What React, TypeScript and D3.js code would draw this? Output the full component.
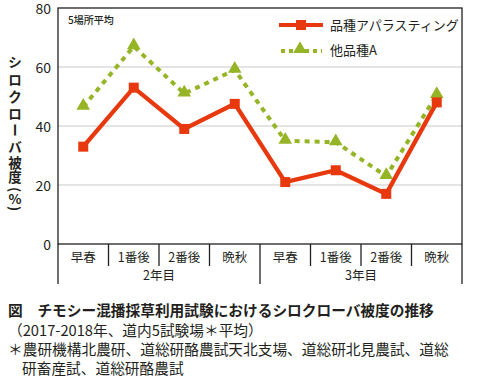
import React, { useEffect, useRef } from "react";
import * as d3 from "d3";

const categories = ["早春", "1番後", "2番後", "晩秋", "早春", "1番後", "2番後", "晩秋"];
const groups = ["2年目", "3年目"];
const seriesNames = ["品種アパラスティング", "他品種A"];
const asparaValues = [33, 53, 39, 47.5, 21, 25, 17, 48];
const otherValues = [46.5, 67, 51, 59, 35, 34.5, 23, 50.5];
const yTicks = [0, 20, 40, 60, 80];
const yTitle = ["シ", "ロ", "ク", "ロ", "ー", "バ", "被", "度", "(", "%", ")"];

const RED = "#e8380d";
const GREEN = "#95b526";
const INK = "#231f20";
const FONT = "'Noto Sans CJK JP', 'Noto Sans', sans-serif";

export default function App() {
  const svgRef = useRef<SVGSVGElement>(null);

  useEffect(() => {
    const svg = d3.select(svgRef.current);
    svg.selectAll("*").remove();

    const left = 58, right = 462, top = 8, bottom = 244;
    const x = d3.scaleBand<number>().domain(d3.range(categories.length)).range([left, right]);
    const y = d3.scaleLinear().domain([0, 80]).range([bottom, top]);

    const g = svg.append("g").attr("font-family", FONT);

    // grid
    g.selectAll(".grid")
      .data([20, 40, 60])
      .join("line")
      .attr("x1", left).attr("x2", right)
      .attr("y1", (d) => y(d)).attr("y2", (d) => y(d))
      .attr("stroke", "#c9c9c9").attr("stroke-width", 1);

    // frame
    g.append("rect")
      .attr("x", left).attr("y", top)
      .attr("width", right - left).attr("height", bottom - top)
      .attr("fill", "none").attr("stroke", INK).attr("stroke-width", 1.3);

    // y tick labels
    g.selectAll(".ytick")
      .data(yTicks)
      .join("text")
      .attr("x", 51).attr("y", (d) => y(d) + 1)
      .attr("dy", "0.36em")
      .attr("text-anchor", "end")
      .attr("font-size", 14)
      .attr("fill", INK)
      .text((d) => d);

    // category dividers
    g.selectAll(".cdiv")
      .data(d3.range(1, categories.length))
      .join("line")
      .attr("x1", (i) => x(i)!).attr("x2", (i) => x(i)!)
      .attr("y1", bottom).attr("y2", (i) => (i === 4 ? 284 : 266))
      .attr("stroke", INK).attr("stroke-width", 1.3);
    [left, right].forEach((xx) => {
      g.append("line")
        .attr("x1", xx).attr("x2", xx)
        .attr("y1", bottom).attr("y2", 284)
        .attr("stroke", INK).attr("stroke-width", 1.3);
    });

    g.selectAll(".cat")
      .data(categories)
      .join("text")
      .attr("x", (_, i) => x(i)! + x.bandwidth() / 2)
      .attr("y", 257).attr("dy", "0.36em")
      .attr("text-anchor", "middle")
      .attr("font-size", 12.5)
      .attr("fill", INK)
      .text((d) => d);

    g.selectAll(".grp")
      .data(groups)
      .join("text")
      .attr("x", (_, i) => x(i * 4)! + x.bandwidth() * 2)
      .attr("y", 275).attr("dy", "0.36em")
      .attr("text-anchor", "middle")
      .attr("font-size", 12.5)
      .attr("fill", INK)
      .text((d) => d);

    // y title, stacked vertically one character at a time
    const titleCenters = [62, 80, 97, 114, 130, 147, 163.5, 177, 189.5, 199, 208.5];
    const rotated = new Set(["ー", "(", ")"]);
    g.selectAll(".ytitle")
      .data(yTitle)
      .join("text")
      .attr("transform", (c, i) =>
        `translate(15,${titleCenters[i]})` + (rotated.has(c) ? " rotate(90)" : ""))
      .attr("dy", "0.36em")
      .attr("text-anchor", "middle")
      .attr("font-size", 13.5)
      .attr("font-weight", "bold")
      .attr("fill", INK)
      .text((c) => c);

    g.append("text")
      .attr("x", 68).attr("y", 24)
      .attr("font-size", 10)
      .attr("font-weight", 500)
      .attr("fill", INK)
      .text("5場所平均");

    const line = d3.line<number>()
      .x((_, i) => x(i)! + x.bandwidth() / 2)
      .y((d) => y(d));

    // other variety (green dotted)
    g.append("path")
      .attr("d", line(otherValues))
      .attr("fill", "none").attr("stroke", GREEN)
      .attr("stroke-width", 4).attr("stroke-dasharray", "5 5");
    const tri = d3.symbol().type(d3.symbolTriangle).size(80);
    g.selectAll(".tri")
      .data(otherValues)
      .join("path")
      .attr("d", tri)
      .attr("transform", (d, i) => `translate(${x(i)! + x.bandwidth() / 2},${y(d) - 1})`)
      .attr("fill", GREEN);

    // asparasting (red)
    g.append("path")
      .attr("d", line(asparaValues))
      .attr("fill", "none").attr("stroke", RED)
      .attr("stroke-width", 4.3).attr("stroke-linejoin", "miter");
    g.selectAll(".sq")
      .data(asparaValues)
      .join("rect")
      .attr("x", (_, i) => x(i)! + x.bandwidth() / 2 - 5)
      .attr("y", (d) => y(d) - 5)
      .attr("width", 10).attr("height", 10)
      .attr("fill", RED);

    // legend
    const lg = g.append("g");
    lg.append("line").attr("x1", 279).attr("x2", 323).attr("y1", 25).attr("y2", 25)
      .attr("stroke", RED).attr("stroke-width", 4);
    lg.append("rect").attr("x", 296).attr("y", 20).attr("width", 10).attr("height", 10).attr("fill", RED);
    lg.append("line").attr("x1", 281).attr("x2", 322).attr("y1", 51).attr("y2", 51)
      .attr("stroke", GREEN).attr("stroke-width", 4).attr("stroke-dasharray", "4 4");
    lg.append("path").attr("d", tri).attr("transform", "translate(300,49)").attr("fill", GREEN);
    seriesNames.forEach((name, i) => {
      lg.append("text")
        .attr("x", 330).attr("y", 25 + i * 25).attr("dy", "0.36em")
        .attr("font-size", 13)
        .attr("fill", INK)
        .text(name);
    });

    // caption
    const cap = g.append("g").attr("fill", INK);
    cap.append("text").attr("x", 8).attr("y", 311).attr("dy", "0.36em")
      .attr("font-size", 14.7).attr("font-weight", "bold")
      .text("図　チモシー混播採草利用試験におけるシロクローバ被度の推移");
    cap.append("text").attr("x", 8).attr("y", 331).attr("dy", "0.36em")
      .attr("font-size", 14.7)
      .text("（2017-2018年、道内5試験場＊平均）");
    cap.append("text").attr("x", 8).attr("y", 350).attr("dy", "0.36em")
      .attr("font-size", 14.7)
      .text("＊農研機構北農研、道総研酪農試天北支場、道総研北見農試、道総");
    cap.append("text").attr("x", 22).attr("y", 369).attr("dy", "0.36em")
      .attr("font-size", 14.7)
      .text("研畜産試、道総研酪農試");
  }, []);

  return (
    <div style={{ position: "absolute", left: 0, top: 0 }}>
      <svg ref={svgRef} width={477} height={389} style={{ display: "block", background: "#fff" }} />
    </div>
  );
}
